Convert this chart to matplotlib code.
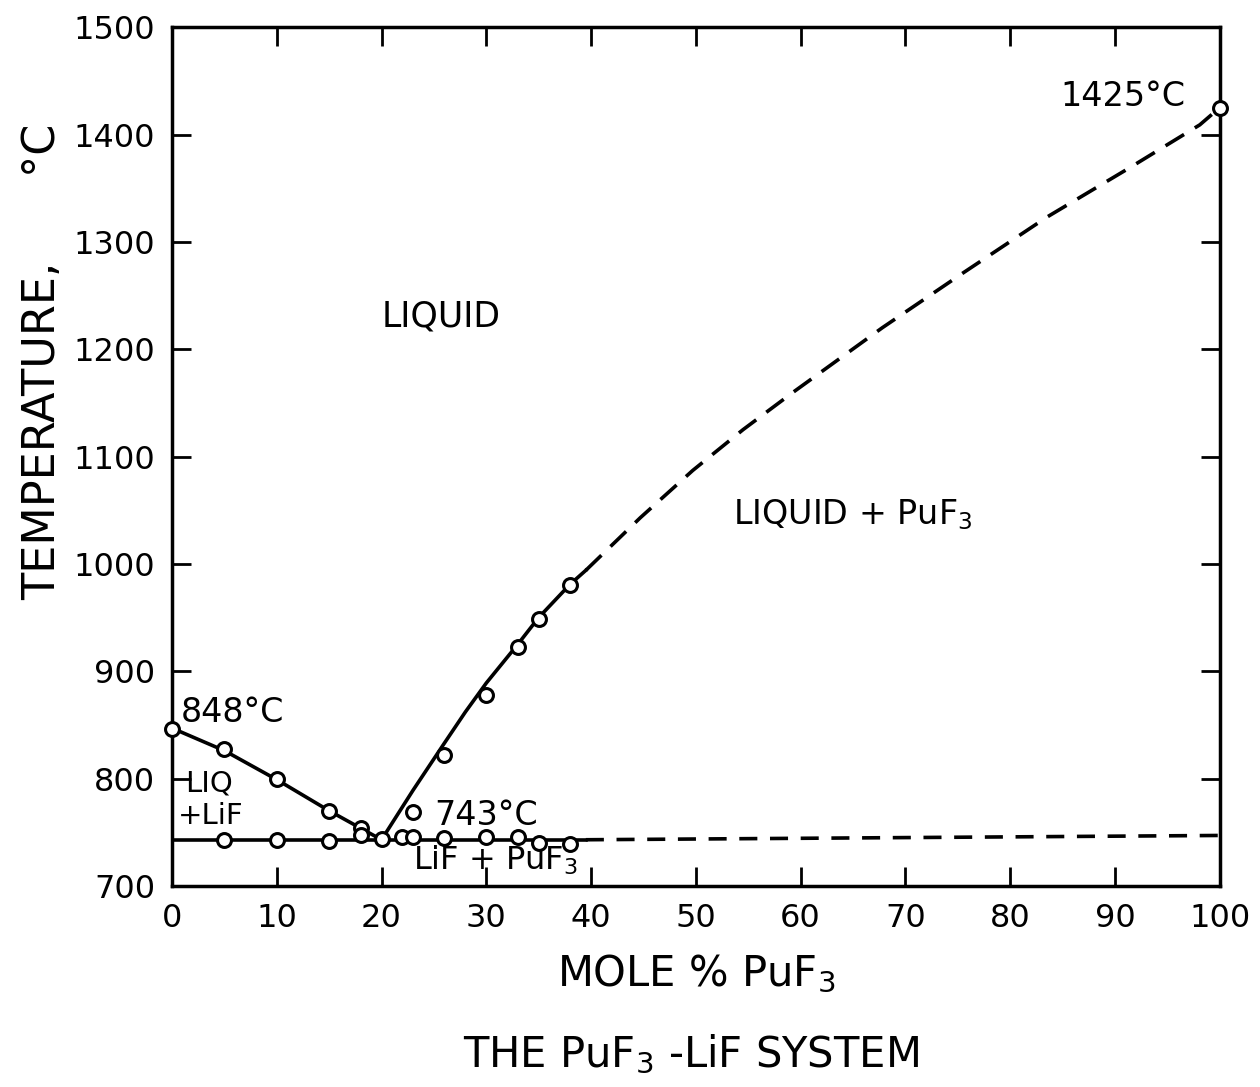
import matplotlib.pyplot as plt
from matplotlib.ticker import MultipleLocator

plt.rcParams["font.family"] = ["DejaVu Sans"]

# measured points (mole % PuF3, deg C)
liq_lif_x = [0, 5, 10, 15, 18]
liq_lif_t = [846, 828, 800, 770, 754]
solidus_x = [5, 10, 15, 18, 20, 22, 23, 26, 30, 33, 35, 38]
solidus_t = [743, 743, 742, 747, 744, 746, 746, 745, 746, 746, 740, 739]
liq_puf3_x = [26, 30, 33, 35, 38, 100]
liq_puf3_t = [822, 878, 923, 949, 980, 1425]
odd_x = [23]
odd_t = [769]

# drawn boundaries
left_line_x = [0, 5, 10, 15, 20]
left_line_t = [847, 826, 799, 770, 743]
right_solid_x = [20, 23, 26, 28, 30, 33, 35, 38, 39.5]
right_solid_t = [743, 789, 833, 862, 889, 925, 950, 981, 994]
right_dash_x = [39.5, 44.7, 49.7, 54.5, 59.3, 67.8, 75.5, 83.5, 91.4, 98.1, 100]
right_dash_t = [994, 1043, 1087, 1125, 1160, 1220, 1271, 1323, 1369, 1409, 1425]
eut_solid_x = [0, 39.5]
eut_solid_t = [743, 743]
eut_dash_x = [39.5, 100]
eut_dash_t = [743, 747]

fig = plt.figure(figsize=(12.6, 10.87), dpi=100)
ax = fig.add_axes([0.1365, 0.185, 0.8315, 0.790])

lw = 2.6
ax.plot(left_line_x, left_line_t, c="black", lw=lw)
ax.plot(right_solid_x, right_solid_t, c="black", lw=lw)
ax.plot(right_dash_x, right_dash_t, c="black", lw=lw, dashes=(6, 3.5))
ax.plot(eut_solid_x, eut_solid_t, c="black", lw=lw)
ax.plot(eut_dash_x, eut_dash_t, c="black", lw=lw, dashes=(5, 3.5))

mk = dict(ls="none", marker="o", ms=10, mfc="white", mec="black", mew=2.2, zorder=5, clip_on=False)
ax.plot(liq_lif_x, liq_lif_t, **mk)
ax.plot(solidus_x, solidus_t, **mk)
ax.plot(liq_puf3_x, liq_puf3_t, **mk)
ax.plot(odd_x, odd_t, **mk)

ax.set_xlim(0, 100)
ax.set_ylim(700, 1500)
ax.xaxis.set_major_locator(MultipleLocator(10))
ax.yaxis.set_major_locator(MultipleLocator(100))
ax.tick_params(direction="in", length=14, width=2, top=True, right=True,
               labelsize=23, pad=12)
for s in ax.spines.values():
    s.set_linewidth(2.5)

ax.set_xlabel("MOLE % PuF$_3$", fontsize=30, labelpad=14)
ax.set_ylabel("TEMPERATURE,      °C", fontsize=32)
ax.yaxis.set_label_coords(-0.103, 0.61)
fig.text(0.548, 0.03, "THE PuF$_3$ -LiF SYSTEM", fontsize=30, ha="center", va="center")

tk = dict(fontsize=24, color="black")
ax.text(96.7, 1435, "1425°C", ha="right", va="center", **tk)
ax.text(0.8, 862, "848°C", ha="left", va="center", **tk)
ax.text(1.3, 788, "LIQ", ha="left", va="baseline", fontsize=21)
ax.text(0.6, 758, "+LiF", ha="left", va="baseline", fontsize=21)
ax.text(25.0, 766, "743°C", ha="left", va="center", **tk)
ax.text(23.0, 724, "LiF + PuF$_3$", ha="left", va="center", fontsize=23)
ax.text(20.0, 1230, "LIQUID", ha="left", va="center", fontsize=25)
ax.text(53.5, 1046, "LIQUID + PuF$_3$", ha="left", va="center", fontsize=24)

fig.savefig("out.png", dpi=100)
